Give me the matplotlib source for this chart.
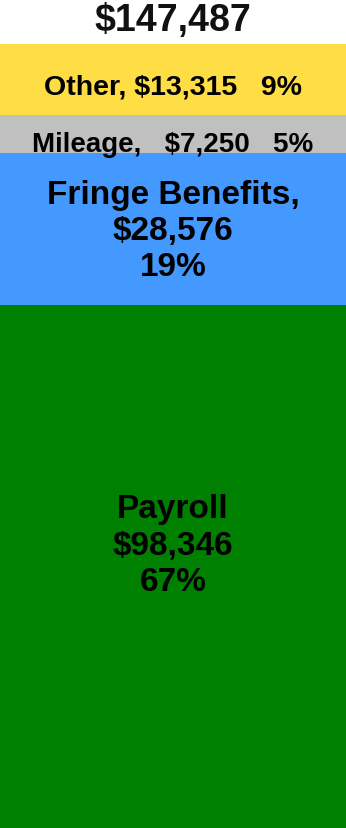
import matplotlib.pyplot as plt

plt.rcParams['font.family'] = ['Liberation Sans', 'DejaVu Sans']

# bottom to top
categories = ['Payroll', 'Fringe Benefits', 'Mileage', 'Other']
values = [98346, 28576, 7250, 13315]
percents = [67, 19, 5, 9]
colors = ['#008000', '#4499ff', '#c0c0c0', '#ffdd44']
total = sum(values)

labels = [
    'Payroll\n$98,346\n67%',
    'Fringe Benefits,\n$28,576\n19%',
    'Mileage,   $7,250   5%',
    'Other, $13,315   9%',
]
sizes = [24, 24, 20, 20.5]
# small vertical nudges (points) for each label
nudges = [15.5, -1, -7.5, -5]

fig = plt.figure(figsize=(3.46, 8.29), dpi=100)
ax = fig.add_axes([0, 0, 1, 784 / 829])

bottoms = []
b = 0
for v in values:
    bottoms.append(b)
    b += v

ax.bar(0, values, bottom=bottoms, width=1, color=colors, linewidth=0)

for lab, v, bt, fs, dy in zip(labels, values, bottoms, sizes, nudges):
    ax.annotate(lab, (0, bt + v / 2), xytext=(0, dy), textcoords='offset points',
                ha='center', va='center', fontsize=fs, fontweight='bold',
                linespacing=1.22, color='black')

ax.set_xlim(-0.5, 0.5)
ax.set_ylim(0, total)
ax.axis('off')

fig.text(0.5, 1 - 21 / 829, '${:,}'.format(total), ha='center', va='center',
         fontsize=27, fontweight='bold', color='#111111')

fig.savefig('out.png', dpi=100)
